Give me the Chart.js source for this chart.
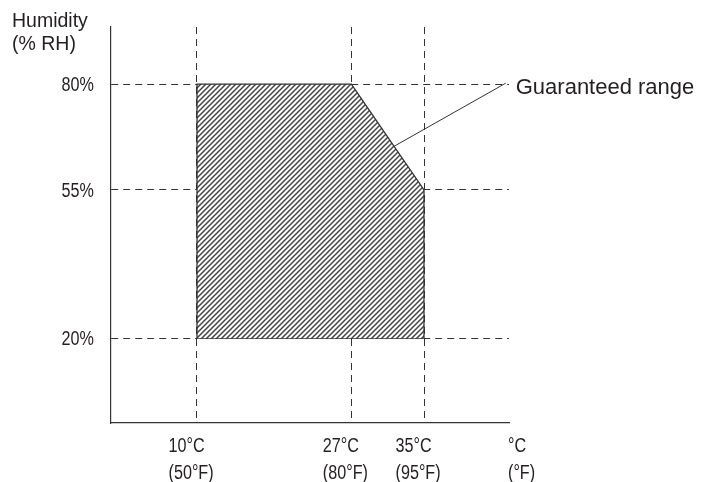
<!DOCTYPE html>
<html>
<head>
<meta charset="utf-8">
<script src="https://cdn.jsdelivr.net/npm/chart.js@4.4.1/dist/chart.umd.min.js"></script>
<style>
  html, body { margin: 0; background: #fff; }
  #wrap { width: 701px; height: 482px; }
</style>
</head>
<body>
<div id="wrap"><canvas id="chart"></canvas></div>
<script>
// temperature ticks (°C) and their labels
const tempTicks = [10, 27, 35];
const tempLabels = [['10°C', '(50°F)'], ['27°C', '(80°F)'], ['35°C', '(95°F)']];
// humidity ticks (% RH)
const rhTicks = [20, 55, 80];

// guaranteed range: outline left to right, and its bottom edge
const rangeTemp = [10, 10, 27, 35, 35];
const rangeRH = [20, 80, 80, 55, 20];
const baseTemp = [10, 35];
const baseRH = [20, 20];

// leader line from the sloped edge to the label
const leaderTemp = [31.7, 44];
const leaderRH = [65.3, 80.2];

const ink = '#231f20';
const font = '"Liberation Sans", Arial, sans-serif';

// diagonal hatch for the range
function makeHatch() {
  const s = 5;
  const tile = document.createElement('canvas');
  tile.width = s;
  tile.height = s;
  const t = tile.getContext('2d');
  t.fillStyle = '#fff';
  t.fillRect(0, 0, s, s);
  t.strokeStyle = '#444';
  t.lineWidth = 1.5;
  t.beginPath();
  t.moveTo(-1, s + 1); t.lineTo(s + 1, -1);
  t.moveTo(-1, 1); t.lineTo(1, -1);
  t.moveTo(s - 1, s + 1); t.lineTo(s + 1, s - 1);
  t.stroke();
  return t.createPattern(tile, 'repeat');
}

// the tick labels are a condensed face; squeeze the regular one
function narrowText(ctx, text, x, y, align) {
  const sx = 0.83;
  ctx.save();
  ctx.font = '19.5px ' + font;
  ctx.textAlign = align;
  ctx.scale(sx, 1);
  ctx.fillText(text, x / sx, y);
  ctx.restore();
}

const extraText = {
  id: 'extraText',
  afterDraw(chart) {
    const { ctx, chartArea, scales: { x, y } } = chart;
    ctx.save();
    ctx.fillStyle = ink;
    ctx.textAlign = 'left';
    ctx.textBaseline = 'alphabetic';

    ctx.font = '19.5px ' + font;
    ctx.fillText('Humidity', 12, 27);
    ctx.fillText('(% RH)', 12, 50);

    ctx.font = '22px ' + font;
    ctx.fillText('Guaranteed range', x.getPixelForValue(leaderTemp[1]) + 10, y.getPixelForValue(leaderRH[1]) + 11);

    // y tick labels
    y.ticks.forEach(t => {
      narrowText(ctx, t.value + '%', chartArea.left - 17, y.getPixelForValue(t.value) + 7, 'right');
    });
    // x tick labels, two lines each
    const line1 = chartArea.bottom + 29, line2 = chartArea.bottom + 56;
    x.ticks.forEach(t => {
      const lab = tempLabels[tempTicks.indexOf(t.value)];
      const px = x.getPixelForValue(t.value) - 28.5;
      narrowText(ctx, lab[0], px, line1, 'left');
      narrowText(ctx, lab[1], px, line2, 'left');
    });
    narrowText(ctx, '°C', chartArea.right - 1, line1, 'left');
    narrowText(ctx, '(°F)', chartArea.right - 1, line2, 'left');
    ctx.restore();
  }
};

const ctx = document.getElementById('chart');
new Chart(ctx, {
  type: 'line',
  data: {
    datasets: [
      {
        label: 'Guaranteed range',
        data: rangeTemp.map((t, i) => ({ x: t, y: rangeRH[i] })),
        borderColor: '#333',
        borderWidth: 1.3,
        backgroundColor: makeHatch(),
        fill: { value: 20 },
        pointRadius: 0,
        tension: 0
      },
      {
        label: 'base',
        data: baseTemp.map((t, i) => ({ x: t, y: baseRH[i] })),
        borderColor: '#333',
        borderWidth: 1.3,
        pointRadius: 0,
        fill: false
      },
      {
        label: 'leader',
        data: leaderTemp.map((t, i) => ({ x: t, y: leaderRH[i] })),
        borderColor: '#333',
        borderWidth: 1,
        pointRadius: 0,
        fill: false
      }
    ]
  },
  options: {
    responsive: true,
    maintainAspectRatio: false,
    animation: false,
    layout: { padding: { left: 0, top: 27, right: 192, bottom: 0 } },
    plugins: {
      legend: { display: false },
      tooltip: { enabled: false }
    },
    scales: {
      x: {
        type: 'linear',
        min: 0.53,
        max: 44.36,
        afterBuildTicks: s => { s.ticks = tempTicks.map(v => ({ value: v })); },
        afterFit: s => { s.height = 59; },
        grid: { color: '#333', lineWidth: 1, drawTicks: false },
        border: { display: true, color: '#333', width: 1.2, dash: [7, 5] },
        ticks: { display: false }
      },
      y: {
        type: 'linear',
        min: 0,
        max: 93.46,
        afterBuildTicks: s => { s.ticks = rhTicks.map(v => ({ value: v })); },
        afterFit: s => { s.width = 111; },
        grid: { color: '#333', lineWidth: 1, drawTicks: false },
        border: { display: true, color: '#333', width: 1.2, dash: [7, 5] },
        ticks: { display: false }
      }
    }
  },
  plugins: [extraText]
});
</script>
</body>
</html>
